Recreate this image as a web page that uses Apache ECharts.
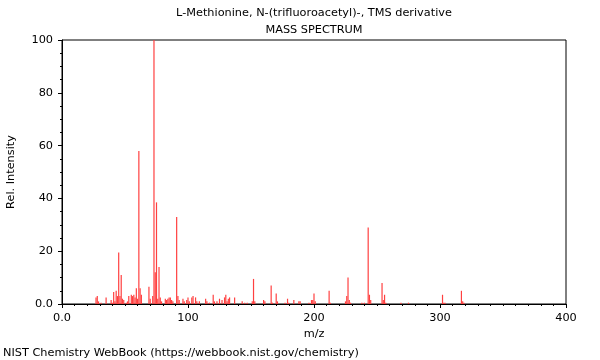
<!DOCTYPE html>
<html>
<head>
<meta charset="utf-8">
<script src="https://cdn.jsdelivr.net/npm/echarts@6/dist/echarts.min.js"></script>
<style>
  html, body { margin: 0; padding: 0; background: #fff; }
  #chart { width: 600px; height: 360px; }
</style>
</head>
<body>
<div id="chart"></div>
<script>
const titleLine1 = 'L-Methionine, N-(trifluoroacetyl)-, TMS derivative';
const titleLine2 = 'MASS SPECTRUM';
const footerText = 'NIST Chemistry WebBook (https://webbook.nist.gov/chemistry)';
const xAxisName = 'm/z';
const yAxisName = 'Rel. Intensity';

const mz = [27, 28, 29, 31, 35, 39, 40, 41, 42, 43, 44, 45, 46, 47, 48, 49, 51, 52, 53, 55,
  56, 57, 58, 59, 60, 61, 62, 63, 69, 70, 72, 73, 74, 75, 76, 77, 78, 79, 82, 83,
  84, 85, 86, 87, 88, 91, 92, 93, 96, 97, 99, 100, 101, 103, 104, 106, 107, 109, 114, 115,
  117, 120, 121, 123, 125, 127, 129, 130, 131, 132, 133, 137, 143, 145, 147, 151, 152, 153, 160, 161,
  166, 167, 170, 171, 177, 179, 180, 184, 188, 189, 196, 198, 199, 200, 201, 212, 213, 225, 226, 227,
  228, 229, 238, 240, 243, 244, 245, 254, 255, 256, 257, 269, 275, 302, 303, 304, 317, 318, 319];
const intensity = [2.5, 3, 1, 0.5, 2.5, 1.5, 0.5, 4.5, 1, 5, 3, 19.5, 3, 11, 2, 1.5, 0.5, 1, 3, 3.5,
  3, 3.5, 2.5, 6, 2, 58, 6, 3.5, 6.5, 2, 3, 100, 12, 38.5, 2, 14, 2.5, 1, 2, 1.5,
  2, 2.5, 2.5, 1.5, 1, 33, 3, 1.5, 2, 1, 1.5, 2.5, 1, 2.5, 3, 2.5, 1, 1, 2, 1,
  0.5, 3.5, 1, 1, 2, 1.5, 2.5, 3.5, 1, 2, 2.5, 2.5, 1, 0.5, 0.5, 1, 9.5, 1, 1.5, 1,
  7, 0.5, 4, 1, 0.5, 2, 0.5, 1.5, 1, 1, 0.5, 1.5, 1.5, 4, 1, 5, 0.5, 1, 3, 10,
  1.5, 0.5, 0.5, 0.5, 29, 3.5, 1.5, 8, 1.5, 3.5, 0.5, 0.5, 0.5, 3.5, 0.5, 0.5, 5, 1, 0.5];

const FONT = 'DejaVu Sans';
const FS = 11.3;
const chart = echarts.init(document.getElementById('chart'), null, { renderer: 'canvas' });

const fmt = v => (v === 0 ? '0.0' : String(v));

chart.setOption({
  animation: false,
  backgroundColor: '#ffffff',
  grid: { left: 62, right: 34, top: 40, bottom: 56, containLabel: false, outerBoundsMode: 'none',
          show: true, borderColor: '#000', borderWidth: 1, backgroundColor: 'transparent' },
  xAxis: {
    type: 'value', min: 0, max: 400, interval: 100,
    name: xAxisName, nameLocation: 'middle', nameGap: 24,
    nameTextStyle: { fontFamily: FONT, fontSize: FS, color: '#000' },
    axisLine: { show: true, onZero: false, lineStyle: { color: '#000', width: 1 } },
    axisTick: { show: true, length: 4, lineStyle: { color: '#000' } },
    minorTick: { show: true, splitNumber: 10, length: 2, lineStyle: { color: '#000' } },
    axisLabel: { fontFamily: FONT, fontSize: FS, color: '#000', margin: 9, formatter: fmt },
    splitLine: { show: false }
  },
  yAxis: {
    type: 'value', min: 0, max: 100, interval: 20,
    name: yAxisName, nameLocation: 'middle', nameGap: 45, nameRotate: 90,
    nameTextStyle: { fontFamily: FONT, fontSize: FS, color: '#000' },
    axisLine: { show: true, lineStyle: { color: '#000', width: 1 } },
    axisTick: { show: true, length: 4, lineStyle: { color: '#000' } },
    minorTick: { show: true, splitNumber: 4, length: 2, lineStyle: { color: '#000' } },
    axisLabel: { fontFamily: FONT, fontSize: FS, color: '#000', margin: 9, formatter: fmt },
    splitLine: { show: false }
  },
  series: [{
    type: 'bar',
    barWidth: 1.2,
    itemStyle: { color: '#ff4040' },
    data: mz.map((m, i) => [m, intensity[i]])
  }],
  graphic: [
    { type: 'text', x: 314, y: 13, style: { text: titleLine1, textAlign: 'center', textVerticalAlign: 'middle', verticalAlign: 'middle', fill: '#000', font: FS + 'px "DejaVu Sans"' } },
    { type: 'text', x: 314, y: 30, style: { text: titleLine2, textAlign: 'center', textVerticalAlign: 'middle', verticalAlign: 'middle', fill: '#000', font: FS + 'px "DejaVu Sans"' } },
    { type: 'text', x: 3, y: 353, style: { text: footerText, textAlign: 'left', textVerticalAlign: 'middle', verticalAlign: 'middle', fill: '#000', font: FS + 'px "DejaVu Sans"' } }
  ]
});
</script>
</body>
</html>
